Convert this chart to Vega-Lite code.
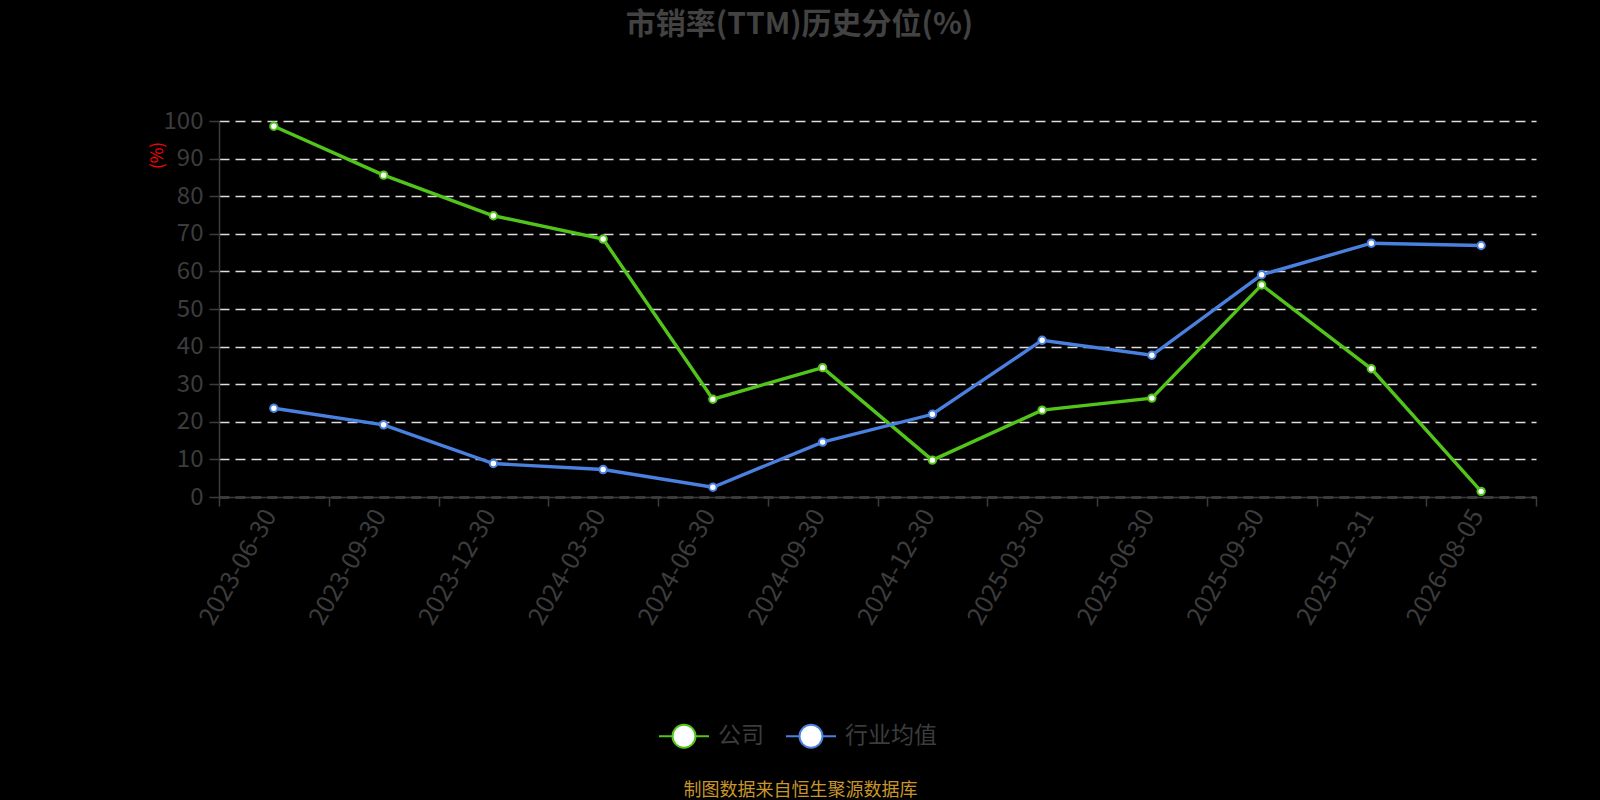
{
  "$schema": "https://vega.github.io/schema/vega-lite/v6.json",
  "width": 1317,
  "height": 376,
  "autosize": "none",
  "padding": {"left": 219, "top": 121, "right": 64, "bottom": 303},
  "background": "#000000",
  "config": {
    "view": {"stroke": null},
    "font": "Noto Sans CJK SC"
  },
  "title": {
    "text": "市销率(TTM)历史分位(%)",
    "fontSize": 30,
    "fontWeight": "bold",
    "color": "#424242",
    "anchor": "middle",
    "dx": -78,
    "offset": 69
  },
  "data": {
    "values": [
      {"date": "2023-06-30", "series": "公司", "value": 98.6},
      {"date": "2023-09-30", "series": "公司", "value": 85.6},
      {"date": "2023-12-30", "series": "公司", "value": 74.8},
      {"date": "2024-03-30", "series": "公司", "value": 68.6},
      {"date": "2024-06-30", "series": "公司", "value": 26.0},
      {"date": "2024-09-30", "series": "公司", "value": 34.4},
      {"date": "2024-12-30", "series": "公司", "value": 9.8},
      {"date": "2025-03-30", "series": "公司", "value": 23.1},
      {"date": "2025-06-30", "series": "公司", "value": 26.3},
      {"date": "2025-09-30", "series": "公司", "value": 56.4},
      {"date": "2025-12-31", "series": "公司", "value": 34.1},
      {"date": "2026-08-05", "series": "公司", "value": 1.5},
      {"date": "2023-06-30", "series": "行业均值", "value": 23.6},
      {"date": "2023-09-30", "series": "行业均值", "value": 19.2},
      {"date": "2023-12-30", "series": "行业均值", "value": 8.9},
      {"date": "2024-03-30", "series": "行业均值", "value": 7.3},
      {"date": "2024-06-30", "series": "行业均值", "value": 2.6},
      {"date": "2024-09-30", "series": "行业均值", "value": 14.6},
      {"date": "2024-12-30", "series": "行业均值", "value": 22.0},
      {"date": "2025-03-30", "series": "行业均值", "value": 41.7},
      {"date": "2025-06-30", "series": "行业均值", "value": 37.7},
      {"date": "2025-09-30", "series": "行业均值", "value": 59.1},
      {"date": "2025-12-31", "series": "行业均值", "value": 67.5},
      {"date": "2026-08-05", "series": "行业均值", "value": 66.9}
    ]
  },
  "encoding": {
    "x": {
      "field": "date",
      "type": "ordinal",
      "scale": {"type": "band", "paddingInner": 0, "paddingOuter": 0},
      "axis": {
        "title": "制图数据来自恒生聚源数据库",
        "titleColor": "#c8962a",
        "titleFontSize": 18,
        "titleFontWeight": "normal",
        "titleX": 581,
        "titleY": 293,
        "titleAnchor": null,
        "titleAlign": "center",
        "titleBaseline": "middle",
        "labelAngle": -60,
        "labelAlign": "right",
        "labelBaseline": "middle",
        "labelFontSize": 25,
        "labelColor": "#3c3c3c",
        "labelPadding": 5,
        "labelOffset": -4,
        "tickBand": "extent",
        "tickColor": "#3c3c3c",
        "tickSize": 9,
        "tickWidth": 1.5,
        "domainColor": "#3c3c3c",
        "domainWidth": 1.5,
        "grid": false
      }
    },
    "y": {
      "field": "value",
      "type": "quantitative",
      "scale": {"domain": [0, 100], "nice": false},
      "axis": {
        "values": [0, 10, 20, 30, 40, 50, 60, 70, 80, 90, 100],
        "title": "(%)",
        "titleColor": "#ff0000",
        "titleFontSize": 17,
        "titleFontWeight": "normal",
        "titleAngle": -90,
        "titleX": -62,
        "titleY": 34,
        "titleAnchor": null,
        "titleAlign": "center",
        "titleBaseline": "middle",
        "labelFontSize": 24,
        "labelColor": "#3c3c3c",
        "labelPadding": 6,
        "tickColor": "#3c3c3c",
        "tickSize": 10,
        "tickWidth": 1.5,
        "domainColor": "#3c3c3c",
        "domainWidth": 1.5,
        "grid": true,
        "gridColor": "#dddddd",
        "gridWidth": 1.7,
        "gridDash": [10, 6]
      }
    },
    "color": {
      "field": "series",
      "type": "nominal",
      "sort": ["公司", "行业均值"],
      "scale": {"domain": ["公司", "行业均值"], "range": ["#52c41a", "#4a80e0"]},
      "legend": {
        "title": null,
        "orient": "none",
        "direction": "horizontal",
        "legendX": 439,
        "legendY": 589,
        "padding": 0,
        "symbolType": "M-1,0L-0.46,0M0.46,0L1,0M-0.46,0A0.46,0.46 0 1,1 0.46,0A0.46,0.46 0 1,1 -0.46,0Z",
        "symbolSize": 2500,
        "symbolFillColor": "#ffffff",
        "symbolStrokeWidth": 2,
        "symbolOpacity": 1,
        "labelFontSize": 23,
        "labelColor": "#3c3c3c",
        "labelOffset": 8,
        "columnPadding": 18
      }
    }
  },
  "layer": [
    {
      "mark": {"type": "line", "strokeWidth": 3.4}
    },
    {
      "mark": {"type": "point", "filled": false, "fill": "#ffffff", "fillOpacity": 1, "opacity": 1, "size": 55, "strokeWidth": 2}
    }
  ]
}
